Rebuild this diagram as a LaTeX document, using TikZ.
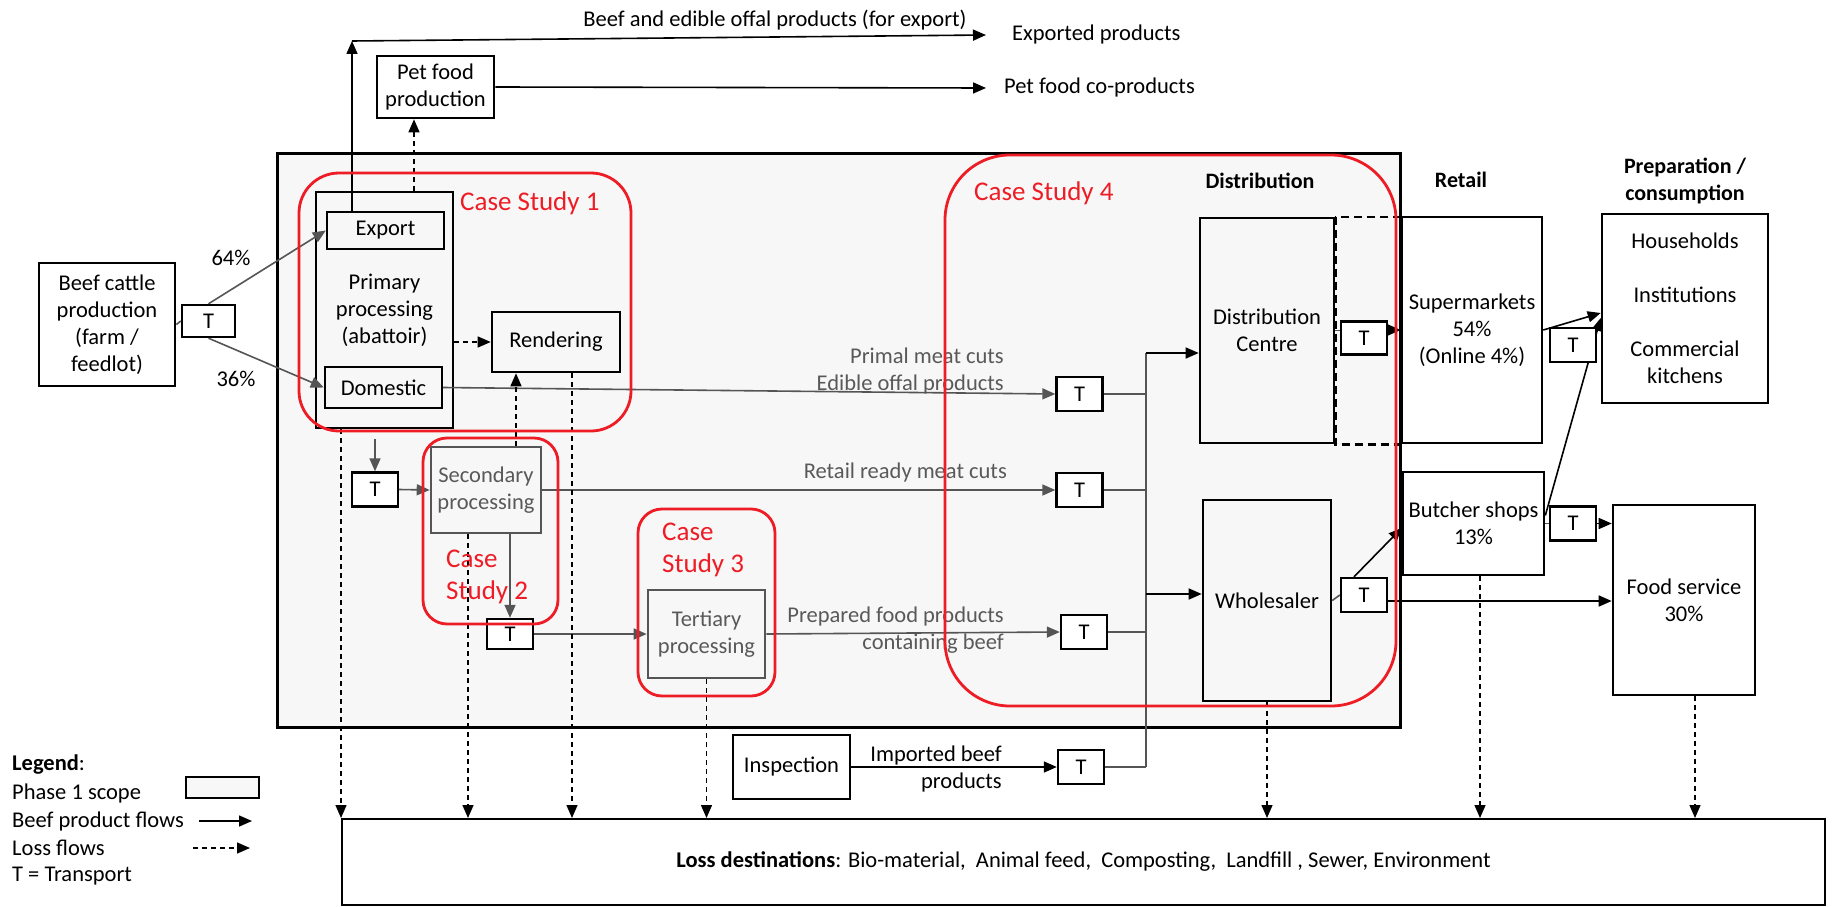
\documentclass[tikz,border=0pt]{standalone}
\usepackage{fontspec}
\setmainfont{Carlito}
\usetikzlibrary{arrows.meta,calc}
\definecolor{scopefill}{HTML}{F7F7F7}
\definecolor{csred}{HTML}{EE1C25}
\definecolor{softtext}{HTML}{595959}
\definecolor{flowgray}{HTML}{555555}

\tikzset{
  txt/.style={font=\fontsize{22.5}{27}\selectfont},
  box/.style={draw=black, line width=2.6pt, fill=white, inner sep=0pt, align=center, txt},
  scopebox/.style={box, fill=scopefill},
  graybox/.style={box, draw=flowgray, fill=scopefill, text=softtext},
  tbox/.style={box, line width=2.4pt, minimum width=46pt, minimum height=34pt},
  tip/.style={-{Triangle[length=13pt,width=11pt]}},
  flow/.style={line width=1.6pt, draw=black, tip},
  gflow/.style={line width=1.6pt, draw=flowgray, tip},
  link/.style={line width=1.6pt, draw=flowgray},
  loss/.style={line width=1.4pt, dash pattern=on 5pt off 4pt, tip},
  casebox/.style={draw=csred, line width=2.8pt, inner sep=0pt},
  caselabel/.style={text=csred, font=\fontsize{27}{32}\selectfont, align=left, inner sep=0pt},
  lbl/.style={inner sep=0pt, txt},
  head/.style={inner sep=0pt, align=center, font=\fontsize{22}{27}\selectfont\bfseries},
}

\begin{document}
\begin{tikzpicture}[x=1pt,y=-1pt]
\useasboundingbox (0,0) rectangle (1834,907);

% Phase 1 scope
\node[draw=black, line width=3pt, fill=scopefill, inner sep=0pt,
      minimum width=1123pt, minimum height=574pt] (phase) at (838.5,440) {};

% Farm and primary processing
\node[box, minimum width=136pt, minimum height=123pt] (beef) at (107,324.5)
  {Beef cattle\\production\\(farm /\\feedlot)};
\node[tbox, minimum width=53pt, minimum height=32pt] (t1) at (208.5,321) {T};
\node[scopebox, minimum width=137pt, minimum height=236pt] (primary) at (384.5,310)
  {Primary\\processing\\(abattoir)};
\node[scopebox, line width=2.4pt, minimum width=117pt, minimum height=37pt] (export) at (385.5,230.5) {Export};
\node[scopebox, line width=2.4pt, minimum width=117pt, minimum height=41pt] (domestic) at (383.5,387.5) {Domestic};
\node[scopebox, minimum width=128pt, minimum height=60pt] (rendering) at (556,342) {Rendering};
\node[box, minimum width=117pt, minimum height=62pt] (petfood) at (435.5,87) {Pet food\\production};

% Secondary and tertiary processing
\node[graybox, minimum width=110pt, minimum height=86pt] (secondary) at (486,490) {Secondary\\processing};
\node[tbox] (t2) at (375,489.5) {T};
\node[tbox, minimum height=30pt] (t3) at (510,634) {T};
\node[graybox, minimum width=117pt, minimum height=88pt] (tertiary) at (706.5,634) {Tertiary\\processing};

% Transport into distribution
\node[tbox] (tprimal) at (1079.5,394) {T};
\node[tbox] (tretail) at (1079.5,490) {T};
\node[tbox] (tprep) at (1084,632) {T};
\node[box, minimum width=117pt, minimum height=64pt] (inspection) at (791.5,767) {Inspection};
\node[tbox] (timport) at (1081,767) {T};

% Distribution
\node[scopebox, minimum width=134pt, minimum height=225pt] (dc) at (1267,330.5) {Distribution\\Centre};
\node[scopebox, minimum width=128pt, minimum height=201pt] (wholesaler) at (1267,600.5) {Wholesaler};
\node[tbox, minimum height=33pt] (tdc) at (1364,338) {T};
\node[tbox] (twh) at (1364,595) {T};

% Retail and consumption
\node[box, minimum width=140pt, minimum height=226pt] (sm) at (1472,330) {Supermarkets\\54\%\\(Online 4\%)};
\node[box, minimum width=141pt, minimum height=103pt] (butcher) at (1473.5,523.5) {Butcher shops\\13\%};
\node[box, minimum width=166pt, minimum height=189pt] (cons) at (1685,308.5)
  {Households\\[27pt]Institutions\\[27pt]Commercial\\kitchens};
\node[box, minimum width=142pt, minimum height=190pt] (foodsvc) at (1684,600) {Food service\\30\%};
\node[tbox] (tbutch) at (1573,523.5) {T};
\draw[flow] ([yshift=8pt]butcher.east) -- ([yshift=-9.5pt]cons.west);
\node[tbox] (tsm) at (1573,345) {T};

% Loss destinations
\node[box, line width=2pt, minimum width=1483pt, minimum height=86pt] (loss) at (1083.5,862)
  {\textbf{Loss destinations}: Bio-material,~ Animal feed,~ Composting,~ Landfill , Sewer, Environment};

% Labels
\node[lbl] (exphead) at (775,20) {Beef and edible offal products (for export)};
\node[lbl, anchor=west] (expprod) at (1012,35) {Exported products};
\node[lbl, anchor=west] (petprod) at (1004,88) {Pet food co-products};
\node[lbl] (p64) at (231,258) {64\%};
\node[lbl] (p36) at (236,379) {36\%};
\node[head] (hdist) at (1260,181) {Distribution};
\node[head] (hretail) at (1461,180) {Retail};
\node[head] (hprep) at (1685,180.5) {Preparation /\\consumption};
\node[lbl, text=softtext, align=right, anchor=east] (lprimal) at (1004,370.5) {Primal meat cuts\\Edible offal products};
\node[lbl, text=softtext, anchor=east] (lretail) at (1007,472) {Retail ready meat cuts};
\node[lbl, text=softtext, align=right, anchor=east] (lprep) at (1004,630.5) {Prepared food products\\containing beef};
\node[lbl, align=right, anchor=east] (limport) at (1002,769) {Imported beef\\products};

% Product flows
\draw[link] (beef.east) -- (t1.west);
\draw[gflow] (t1.north) -- (export.west);
\draw[gflow] (t1.south) -- (domestic.west);
\coordinate (expup) at (352,41);
\draw[flow] (export.north -| expup) -- (expup);
\draw[flow] (expup) -- ([xshift=-26pt]expprod.west);
\draw[flow] (petfood.east) -- ([xshift=-18pt]petprod.west);
\draw[gflow] (domestic.east) -- (tprimal.west);
\draw[gflow, shorten <=10pt] (t2.north |- primary.south) -- (t2.north);
\draw[gflow] (t2.east) -- (secondary.west);
\draw[gflow] (secondary.east) -- (tretail.west);
\draw[gflow] (t3.north |- secondary.south) -- (t3.north);
\draw[gflow] (t3.east) -- (tertiary.west);
\draw[gflow] (tertiary.east) -- (tprep.west);
\draw[flow] (inspection.east) -- (timport.west);

% Collector into distribution
\coordinate (bustop) at (1146,353);
\coordinate (busbot) at (1146,767);
\coordinate (buswh) at (1146,594);
\draw[link] (bustop) -- (busbot);
\draw[link] (tprimal.east) -- (tprimal.east -| bustop);
\draw[link] (tretail.east) -- (tretail.east -| bustop);
\draw[link] (tprep.east) -- (tprep.east -| bustop);
\draw[link] (timport.east) -- (timport.east -| bustop);
\draw[flow] (bustop) -- (bustop -| dc.west);
\draw[flow] (buswh) -- (buswh -| wholesaler.west);

% Distribution to retail and consumption
\draw[link] (dc.east) -- (tdc.west |- dc.east);
\draw[flow] (tdc.east |- sm.west) -- (sm.west);
\draw[line width=2.4pt, dash pattern=on 8pt off 5pt] (dc.north east) rectangle (dc.south east -| sm.west);
\draw[link] (wholesaler.east) -- (twh.west);
\draw[flow] ([xshift=-10pt]twh.north) -- ([yshift=-4.5pt]butcher.west);
\draw[flow] ([yshift=-6pt]twh.east) -- ([yshift=-6pt]twh.east -| foodsvc.west);
\draw[flow] (sm.east) -- ([yshift=-4.5pt]cons.west);
\draw[link] (butcher.east) -- (tbutch.west);
\draw[flow] (tbutch.east) -- (tbutch.east -| foodsvc.west);

% Loss flows
\coordinate (petx) at (414,0);
\coordinate (rendx) at (516,0);
\coordinate (lossp) at (341,0);
\coordinate (losss) at (468,0);
\coordinate (lossr) at (572,0);
\coordinate (lossb) at (1480,0);
\coordinate (lossf) at (1695,0);
\draw[loss] (primary.north -| petx) -- (petfood.south -| petx);
\draw[loss] (primary.east |- rendering.west) -- (rendering.west);
\draw[loss] (secondary.north -| rendx) -- (rendering.south -| rendx);
\draw[loss] (primary.south -| lossp) -- (loss.north -| lossp);
\draw[loss] (secondary.south -| losss) -- (loss.north -| losss);
\draw[loss] (rendering.south -| lossr) -- (loss.north -| lossr);
\draw[loss] (tertiary.south) -- (loss.north -| tertiary.south);
\draw[loss] (wholesaler.south) -- (loss.north -| wholesaler.south);
\draw[loss] (butcher.south -| lossb) -- (loss.north -| lossb);
\draw[loss] (foodsvc.south -| lossf) -- (loss.north -| lossf);

% Case studies
\node[casebox, rounded corners=40pt, minimum width=332pt, minimum height=258pt] (cs1) at (465,302) {};
\node[casebox, rounded corners=24pt, minimum width=135pt, minimum height=186pt] (cs2) at (490.5,531) {};
\node[casebox, rounded corners=24pt, minimum width=137pt, minimum height=187pt] (cs3) at (706.5,602.5) {};
\node[casebox, rounded corners=65pt, minimum width=451pt, minimum height=551pt] (cs4) at (1170.5,430.5) {};
\node[caselabel, anchor=west] (cs1lbl) at (460,203) {Case Study 1};
\node[caselabel, anchor=west] (cs2lbl) at (446,577) {Case\\Study 2};
\node[caselabel, anchor=west] (cs3lbl) at (662,549.5) {Case\\Study 3};
\node[caselabel, anchor=west] (cs4lbl) at (974,193) {Case Study 4};

% Legend
\node[lbl, anchor=west] (legtitle) at (12,765) {\textbf{Legend}:};
\node[lbl, anchor=west] (legscope) at (12,793) {Phase 1 scope};
\node[draw=black, line width=2pt, fill=scopefill, inner sep=0pt, minimum width=73pt, minimum height=21pt] (legbox) at (222.5,787.5) {};
\node[lbl, anchor=west] (legflow) at (12,821) {Beef product flows};
\node[lbl, anchor=west] (legloss) at (12,848) {Loss flows};
\node[lbl, anchor=west] (legt) at (12,876) {T = Transport};
\coordinate (lf1) at (199,821);
\coordinate (lf2) at (252,821);
\coordinate (ll1) at (193,848);
\coordinate (ll2) at (250,848);
\draw[flow] (lf1) -- (lf2);
\draw[loss] (ll1) -- (ll2);
\end{tikzpicture}
\end{document}
